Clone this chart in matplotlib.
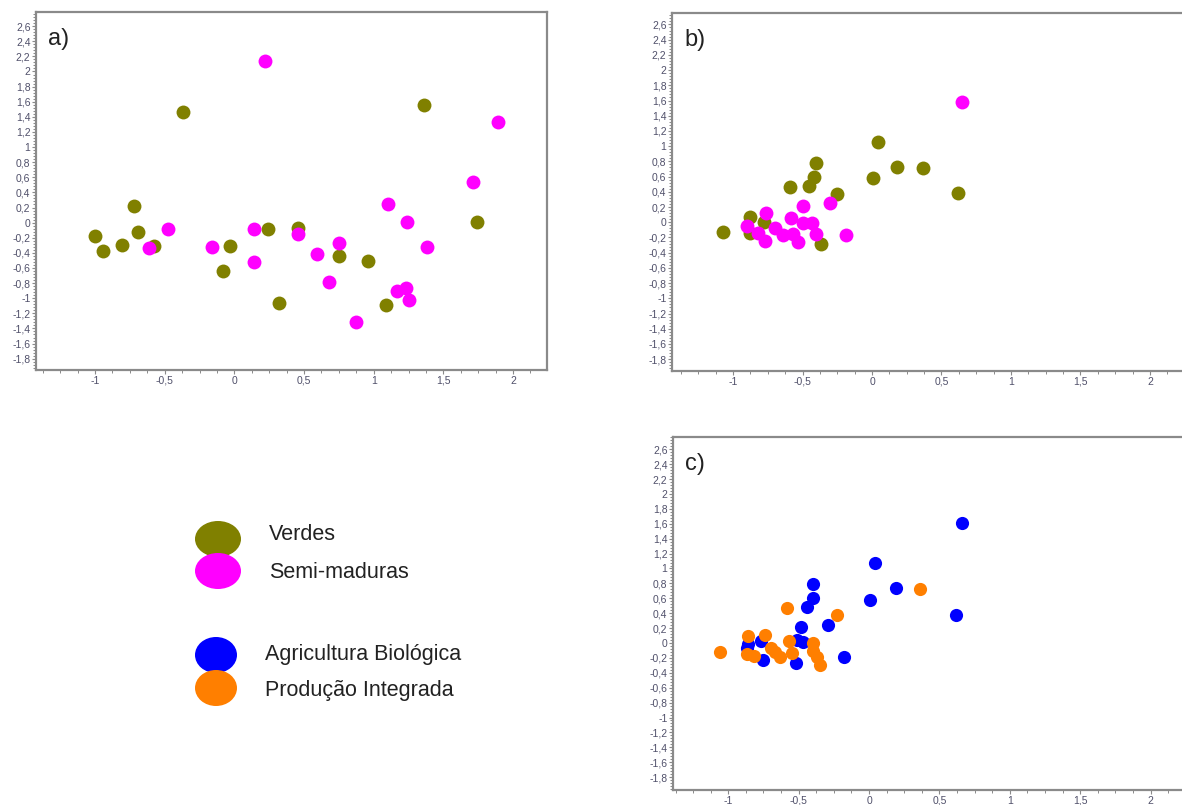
import matplotlib
matplotlib.use("Agg")
import matplotlib.pyplot as plt
from matplotlib.ticker import MultipleLocator, FuncFormatter
from matplotlib.patches import Ellipse

# ---------------- data ----------------
# Panel a)
a_verdes_x = [-1.00, -0.94, -0.81, -0.72, -0.69, -0.58, -0.37, -0.08, -0.03, 0.24, 0.32, 0.46, 0.75, 0.96, 1.09, 1.36, 1.74]
a_verdes_y = [-0.18, -0.37, -0.29, 0.22, -0.13, -0.31, 1.46, -0.64, -0.31, -0.08, -1.07, -0.07, -0.44, -0.51, -1.09, 1.56, 0.01]
a_semi_x = [-0.48, -0.61, -0.16, 0.14, 0.14, 0.46, 0.59, 0.75, 0.68, 0.87, 1.10, 1.24, 1.38, 1.17, 1.23, 1.25, 1.71, 0.22, 1.89]
a_semi_y = [-0.08, -0.33, -0.32, -0.08, -0.52, -0.15, -0.41, -0.27, -0.78, -1.31, 0.25, 0.01, -0.32, -0.90, -0.86, -1.03, 0.54, 2.14, 1.33]

# Panel b)
b_verdes_x = [-1.07, -0.88, -0.88, -0.78, -0.59, -0.45, -0.42, -0.40, -0.25, -0.37, 0.01, 0.04, 0.18, 0.37, 0.62]
b_verdes_y = [-0.13, 0.07, -0.14, 0.00, 0.46, 0.47, 0.59, 0.78, 0.37, -0.28, 0.58, 1.05, 0.72, 0.71, 0.38]
b_semi_x = [0.65, -0.30, -0.19, -0.50, -0.76, -0.90, -0.82, -0.77, -0.70, -0.64, -0.58, -0.57, -0.53, -0.50, -0.43, -0.40]
b_semi_y = [1.58, 0.25, -0.17, 0.21, 0.12, -0.05, -0.14, -0.24, -0.07, -0.17, 0.05, -0.15, -0.26, -0.01, -0.01, -0.15]

# Panel c)
c_bio_x = [0.66, 0.04, 0.01, 0.19, 0.62, -0.40, -0.40, -0.44, -0.29, -0.48, -0.51, -0.47, -0.52, -0.18, -0.77, -0.86, -0.87, -0.75]
c_bio_y = [1.61, 1.07, 0.58, 0.74, 0.38, 0.79, 0.60, 0.48, 0.24, 0.21, 0.04, 0.01, -0.27, -0.19, 0.03, -0.01, -0.07, -0.23]
c_pi_x = [0.36, -0.23, -0.58, -1.06, -0.86, -0.87, -0.82, -0.74, -0.70, -0.67, -0.63, -0.57, -0.55, -0.40, -0.40, -0.37, -0.35]
c_pi_y = [0.72, 0.37, 0.47, -0.12, 0.09, -0.15, -0.17, 0.11, -0.07, -0.12, -0.19, 0.03, -0.14, 0.00, -0.11, -0.19, -0.29]

legend_labels_1 = ["Verdes", "Semi-maduras"]
legend_labels_2 = ["Agricultura Biológica", "Produção Integrada"]
panel_labels = ["a)", "b)", "c)"]

OLIVE = "#808000"
MAGENTA = "#FF00FF"
BLUE = "#0000FF"
ORANGE = "#FF7F00"

W, H = 1182, 805
fig = plt.figure(figsize=(W / 100, H / 100), dpi=100)
FONT = ["Liberation Sans Narrow", "Liberation Sans", "DejaVu Sans"]


def px_axes(l, t, r, b):
    return fig.add_axes([l / W, 1 - b / H, (r - l) / W, (b - t) / H])


def fmt(v, pos):
    s = "%g" % round(v, 3)
    if s == "-0":
        s = "0"
    return s.replace(".", ",")


def style(ax, xlim, ylim, label):
    ax.set_xlim(*xlim)
    ax.set_ylim(*ylim)
    ax.xaxis.set_major_locator(MultipleLocator(0.5))
    ax.xaxis.set_minor_locator(MultipleLocator(0.125))
    ax.yaxis.set_major_locator(MultipleLocator(0.2))
    ax.yaxis.set_minor_locator(MultipleLocator(0.04))
    ax.xaxis.set_major_formatter(FuncFormatter(fmt))
    ax.yaxis.set_major_formatter(FuncFormatter(fmt))
    for sp in ax.spines.values():
        sp.set_color("#8a8a8a")
        sp.set_linewidth(1.6)
    ax.tick_params(which="major", direction="out", length=3, width=0.8,
                   color="#8a8a8a", labelsize=7.5, labelcolor="#50506a", pad=1)
    ax.tick_params(which="minor", direction="out", length=2, width=0.7, color="#8a8a8a")
    for t in ax.get_xticklabels() + ax.get_yticklabels():
        t.set_family(FONT)
    ax.text(0.024, 0.955, label, transform=ax.transAxes, fontsize=17,
            va="top", ha="left", family=FONT, color="#222222")


S = 100
# Panel a
axa = px_axes(36, 12, 547, 370)
axa.scatter(a_verdes_x, a_verdes_y, s=S, color=OLIVE, linewidths=0, zorder=3)
axa.scatter(a_semi_x, a_semi_y, s=S, color=MAGENTA, linewidths=0, zorder=3)
style(axa, (-1.424, 2.244), (-1.95, 2.787), panel_labels[0])

# Panel b
axb = px_axes(672, 13, 1185, 371)
axb.scatter(b_verdes_x, b_verdes_y, s=S, color=OLIVE, linewidths=0, zorder=3)
axb.scatter(b_semi_x, b_semi_y, s=S, color=MAGENTA, linewidths=0, zorder=3)
style(axb, (-1.439, 2.252), (-1.955, 2.75), panel_labels[1])

# Panel c
axc = px_axes(673, 437, 1185, 790)
axc.scatter(c_bio_x, c_bio_y, s=90, color=BLUE, linewidths=0, zorder=3)
axc.scatter(c_pi_x, c_pi_y, s=90, color=ORANGE, linewidths=0, zorder=3)
style(axc, (-1.393, 2.245), (-1.973, 2.765), panel_labels[2])

# Legend (drawn in figure pixel space)
lg = fig.add_axes([0, 0, 1, 1], zorder=-1)
lg.set_xlim(0, W)
lg.set_ylim(H, 0)
lg.axis("off")
lg.add_patch(Ellipse((218, 539), 46, 36, color=OLIVE, lw=0))
lg.add_patch(Ellipse((218, 571), 46, 36, color=MAGENTA, lw=0))
lg.add_patch(Ellipse((216, 655), 42, 36, color=BLUE, lw=0))
lg.add_patch(Ellipse((216, 688), 42, 36, color=ORANGE, lw=0))
lg.text(269, 534, legend_labels_1[0], fontsize=15.5, va="center", ha="left", family=FONT, color="#222222")
lg.text(269, 572, legend_labels_1[1], fontsize=15.5, va="center", ha="left", family=FONT, color="#222222")
lg.text(265, 654, legend_labels_2[0], fontsize=15.5, va="center", ha="left", family=FONT, color="#222222")
lg.text(265, 690, legend_labels_2[1], fontsize=15.5, va="center", ha="left", family=FONT, color="#222222")

fig.savefig("out.png", dpi=100)
